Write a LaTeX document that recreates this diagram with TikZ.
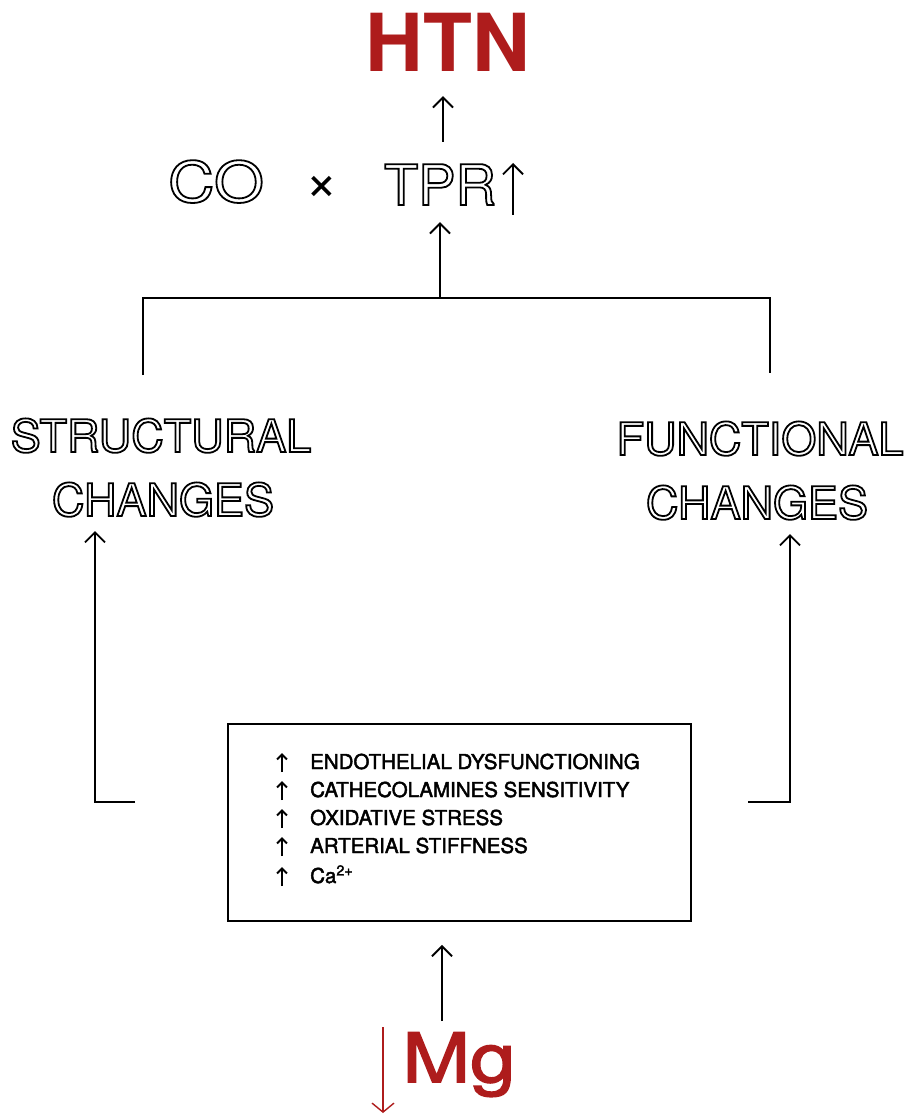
\documentclass[tikz,border=0pt]{standalone}
\usepackage{fontspec}
\setmainfont{TeX Gyre Heros}
\usetikzlibrary{arrows.meta,calc}
\definecolor{htnred}{RGB}{174,28,28}
\newcommand\outl[1]{\special{pdf:literal direct 1 Tr 1.8 w}#1\special{pdf:literal direct 0 Tr}}
\tikzset{
  arr/.style={line width=1.9pt, -{Straight Barb[length=10pt,width=20pt]}},
  smallarr/.style={line width=2pt, -{Straight Barb[length=5pt,width=10pt]}},
  ln/.style={line width=1.9pt},
  lbl/.style={anchor=base, inner sep=0pt, font=\fontsize{45}{45}\selectfont},
  item/.style={anchor=base west, inner sep=0pt, font=\fontsize{20.5}{20.5}\addfontfeature{FakeBold=2.2}\selectfont},
}
\begin{document}
\begin{tikzpicture}[x=1pt,y=-1pt]
\useasboundingbox (0,0) rectangle (914,1115);
% top
\node[anchor=base, inner sep=0pt, font=\fontsize{80}{80}\bfseries\selectfont, text=htnred] (htn) at (448,72) {HTN};
\node[anchor=base, inner sep=0pt, font=\fontsize{56}{56}\addfontfeature{FakeStretch=1.15}\selectfont] (co) at (216,202) {\outl{CO}};
\node[inner sep=0pt, font=\fontsize{56}{56}\selectfont] (times) at (322,188) {×};
\node[anchor=base, inner sep=0pt, font=\fontsize{56}{56}\selectfont] (tpr) at (440,205) {\outl{TPR}};
\coordinate (tprupS) at (513,215);
\coordinate (tprupE) at (513,163);
\draw[arr] (tprupS) -- (tprupE);
\draw[arr, shorten <=22pt, shorten >=24pt] ([xshift=3pt]tpr.north) -- ([xshift=-5pt]htn.south);
% bracket
\coordinate (bl) at (143,375);
\coordinate (blt) at (143,298);
\coordinate (bmid) at (440,298);
\coordinate (brt) at (770,298);
\coordinate (br) at (770,373);
\draw[ln] (bl) -- (blt) -- (brt) -- (br);
\draw[arr, shorten >=17pt] (bmid) -- (bmid |- tpr.south);
% labels
\node[lbl] (s1) at (161,452) {\outl{STRUCTURAL}};
\node[lbl] (s2) at (163,516) {\outl{CHANGES}};
\node[lbl] (f1) at (760,455) {\outl{FUNCTIONAL}};
\node[lbl] (f2) at (757,519) {\outl{CHANGES}};
% box
\node[draw, line width=1.9pt, minimum width=463pt, minimum height=197pt, inner sep=0pt] (box) at (459.5,822.5) {};
\coordinate (lstub) at (135,802);
\coordinate (lcorner) at (95,802);
\coordinate (rstub) at (748,802);
\coordinate (rcorner) at (790,802);
\draw[arr, shorten >=14pt] (lstub) -- (lcorner) -- (lcorner |- s2.south);
\draw[arr, shorten >=14pt] (rstub) -- (rcorner) -- (rcorner |- f2.south);
% list
\foreach \b/\t [count=\i] in {769/ENDOTHELIAL DYSFUNCTIONING, 797/CATHECOLAMINES SENSITIVITY, 825/OXIDATIVE STRESS, 853/ARTERIAL STIFFNESS, 883/{Ca\textsuperscript{2+}}}{
  \node[item] (it\i) at (310,\b) {\t};
  \coordinate (ua\i) at (282,\b+3);
  \coordinate (ub\i) at (282,\b-16);
  \draw[smallarr] (ua\i) -- (ub\i);
}
% Mg
\node[anchor=base, inner sep=0pt, font=\fontsize{68}{68}\addfontfeature{FakeBold=2.2,FakeStretch=1.2}\selectfont, text=htnred] (mg) at (459,1082) {Mg};
\draw[arr, shorten <=11pt, shorten >=23pt] ([xshift=-17pt]mg.north) -- ([xshift=-17.5pt]box.south);
\coordinate (mgdS) at (383,1027);
\coordinate (mgdE) at (383,1113);
\draw[htnred, line width=1.4pt, -{Straight Barb[length=9pt,width=22pt]}] (mgdS) -- (mgdE);
\end{tikzpicture}
\end{document}
